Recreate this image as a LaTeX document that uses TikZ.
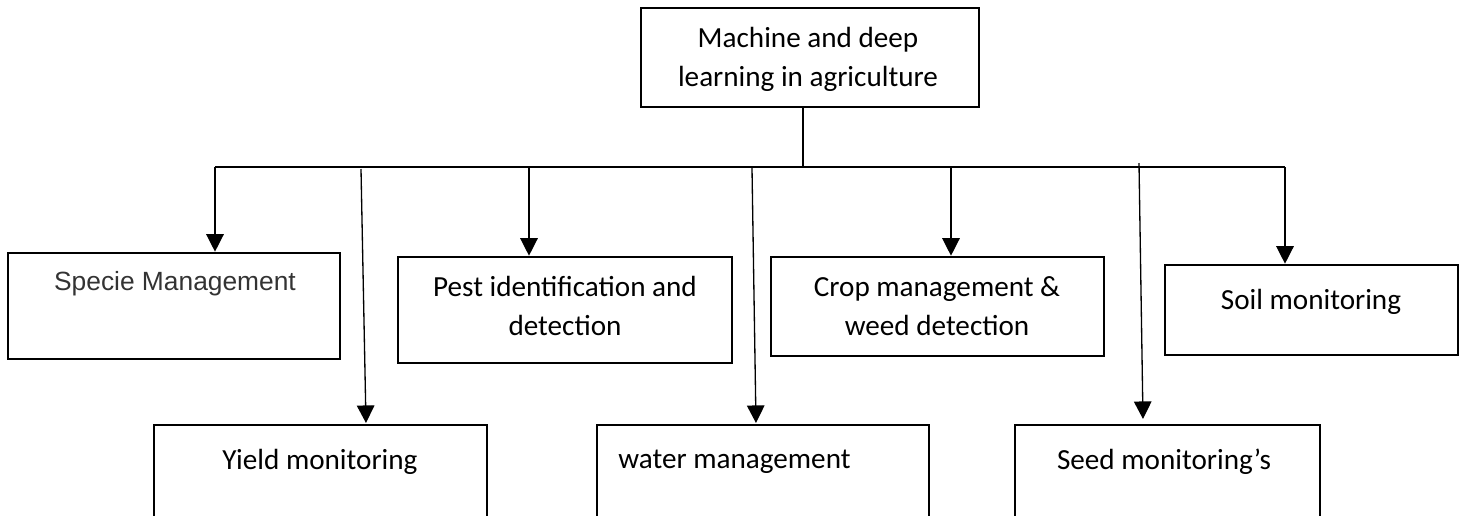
\documentclass[tikz,border=0pt]{standalone}
\usepackage{fontspec}
\setmainfont{Carlito}
\newfontfamily\arialfont{Liberation Sans}
\usetikzlibrary{arrows.meta,positioning}

\begin{document}
\begin{tikzpicture}[x=0.02cm,y=-0.02cm,
  box/.style = {draw, line width=1.5pt, rectangle, inner sep=0pt},
  lbl/.style = {align=center, inner sep=0pt, font=\fontsize{16.6}{22.1}\selectfont},
  link/.style = {line width=0.75pt, -{Triangle[length=10pt,width=10pt]}}]
\clip (0,0) rectangle (1465,515);
% boxes
\node[box, minimum width=338*0.02cm, minimum height=99*0.02cm] (root) at (810,57.5) {};
\node[box, minimum width=332*0.02cm, minimum height=106*0.02cm] (sp) at (174,306) {};
\node[box, minimum width=334*0.02cm, minimum height=106*0.02cm] (pest) at (565,310) {};
\node[box, minimum width=333*0.02cm, minimum height=99*0.02cm] (crop) at (937.5,306.5) {};
\node[box, minimum width=293*0.02cm, minimum height=90*0.02cm] (soil) at (1311.5,310) {};
\node[box, minimum width=333*0.02cm, minimum height=120*0.02cm] (yield) at (320.5,485) {};
\node[box, minimum width=332*0.02cm, minimum height=120*0.02cm] (water) at (763,485) {};
\node[box, minimum width=305*0.02cm, minimum height=120*0.02cm] (seed) at (1167.5,485) {};
% texts
\node[lbl] (t0) at (808,59) {Machine and deep\\learning in agriculture};
\node[lbl, font=\arialfont\fontsize{15}{18}\selectfont, text=black!80] (t1) at (175,284) {Specie Management};
\node[lbl] (t2) at (565,306) {Pest identification and\\detection};
\node[lbl] (t3) at (937,306) {Crop management \&\\weed detection};
\node[lbl] (t4) at (1311,302) {Soil monitoring};
\node[lbl] (t5) at (320,462) {Yield monitoring};
\node[lbl, anchor=west] (t6) at (618,462) {water management};
\node[lbl] (t7) at (1164,462) {Seed monitoring’s};
% bus
\coordinate (b1) at (215,167);
\coordinate (b2) at (529,167);
\coordinate (b3) at (951,167);
\coordinate (b4) at (1285,167);
\coordinate (s1) at (361,169);
\coordinate (e1) at (366,423);
\coordinate (s2) at (752,168);
\coordinate (e2) at (756,423);
\coordinate (s3) at (1139,163);
\coordinate (e3) at (1143,419);
\draw[line width=0.75pt] (root.south -| 803,0) -- (803,167);
\draw[line width=0.75pt] (b1) -- (b4);
\draw[link] (b1) -- (b1 |- sp.north);
\draw[link] (b2) -- (b2 |- pest.north);
\draw[link] (b3) -- (b3 |- crop.north);
\draw[link] (b4) -- (b4 |- soil.north);
\draw[link] (s1) -- (e1);
\draw[link] (s2) -- (e2);
\draw[link] (s3) -- (e3);
\end{tikzpicture}
\end{document}
